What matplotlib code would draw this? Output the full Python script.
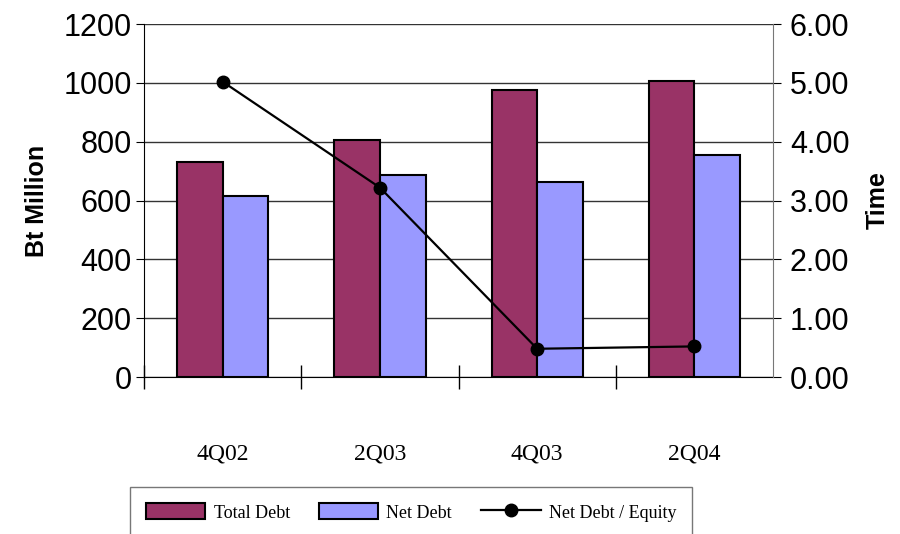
import matplotlib.pyplot as plt
import numpy as np

quarters = ["4Q02", "2Q03", "4Q03", "2Q04"]
total_debt = [732, 806, 976, 1008]
net_debt = [614, 688, 663, 756]
nd_equity = [5.02, 3.22, 0.48, 0.52]

sans = ["Liberation Sans", "DejaVu Sans"]
serif = ["Liberation Serif", "DejaVu Serif"]

fig = plt.figure(figsize=(9, 5.34), dpi=100)
ax = fig.add_axes([0.16, 0.294, 0.699, 0.661])

x = np.arange(len(quarters))
w = 0.29
b1 = ax.bar(x - w / 2, total_debt, w, color="#993366", edgecolor="black",
            linewidth=1.5, label="Total Debt", zorder=3)
b2 = ax.bar(x + w / 2, net_debt, w, color="#9999FF", edgecolor="black",
            linewidth=1.5, label="Net Debt", zorder=3)

ax.set_xlim(-0.5, len(quarters) - 0.5)
ax.set_ylim(0, 1200)
ax.set_yticks(range(0, 1201, 200))
ax.yaxis.grid(True, color="#333333", linewidth=1)
ax.set_axisbelow(True)
for s in ["top", "right"]:
    ax.spines[s].set_visible(False)

# category labels at centres, tick marks at boundaries
ax.set_xticks(x)
ax.set_xticklabels(quarters, family=serif, fontsize=17)
ax.tick_params(axis="x", which="major", length=0, pad=48)
ax.set_xticks(np.arange(-0.5, len(quarters) - 0.5, 1), minor=True)
ax.tick_params(axis="x", which="minor", direction="inout", length=17, width=1)
ax.tick_params(axis="y", direction="out", length=6, labelsize=22, pad=3)
for t in ax.get_yticklabels():
    t.set_family(sans)
ax.set_ylabel("Bt Million", family=sans, fontsize=18, fontweight="bold", labelpad=10)

ax2 = ax.twinx()
ax2.set_ylim(0, 6)
ax2.set_yticks(np.arange(0, 6.01, 1))
ax2.set_yticklabels([f"{v:.2f}" for v in np.arange(0, 6.01, 1)])
for t in ax2.get_yticklabels():
    t.set_family(sans)
ax2.tick_params(axis="y", direction="out", length=6, labelsize=22, pad=6)
for s in ["top", "left", "bottom"]:
    ax2.spines[s].set_visible(False)
ax2.spines["right"].set_color("#777777")
ln, = ax2.plot(x, nd_equity, color="black", linewidth=1.6, marker="o",
               markersize=9, label="Net Debt / Equity", zorder=4)
ax2.set_ylabel("Time", family=sans, fontsize=18, fontweight="bold", labelpad=12)

leg = fig.legend([b1, b2, ln], ["Total Debt", "Net Debt", "Net Debt / Equity"],
                 loc="upper left", bbox_to_anchor=(0.144, 0.088), borderaxespad=0,
                 ncol=3, prop={"family": serif, "size": 13}, frameon=True,
                 fancybox=False, edgecolor="#555555", handlelength=3.3,
                 handleheight=1.0, columnspacing=1.6, handletextpad=0.45,
                 borderpad=0.9)
leg.get_frame().set_linewidth(1)

fig.savefig("out.png", dpi=100)
